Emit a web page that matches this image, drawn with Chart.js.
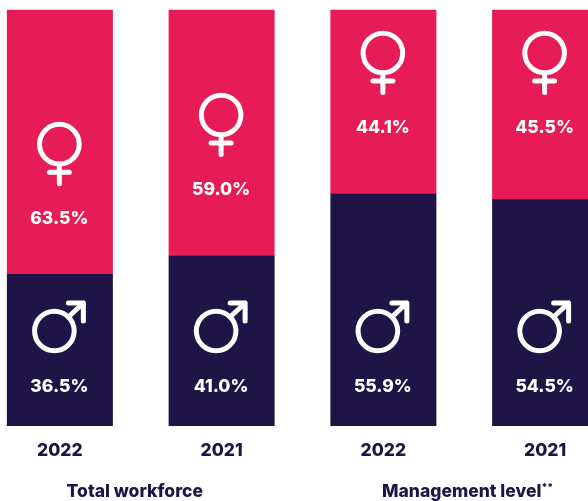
<!DOCTYPE html>
<html><head><meta charset="utf-8">
<script src="https://cdn.jsdelivr.net/npm/chart.js@4"></script>
<style>
html,body{margin:0;padding:0;background:#fff;overflow:hidden}
#wrap{position:relative;width:588px;height:501px;overflow:hidden}
#c{position:absolute;left:-21px;top:0}
</style></head><body>
<div id="wrap"><canvas id="c" width="647" height="501"></canvas></div>
<script>
const years = ['2022','2021','2022','2021'];
const femaleShare = [63.5,59.0,44.1,45.5];
const maleShare = [36.5,41.0,55.9,54.5];
const groups = ['Total workforce','Management level'];
const PINK = '#E71B55', NAVY = '#1F1446', FONT = 'Inter, sans-serif';
// label anchors expressed on the y scale (percent units)
const femaleLabelAt = [49.9,56.9,71.8,71.8];
const maleLabelAt = [9.6,9.6,9.6,9.6];

function venus(ctx,x,y){
  ctx.beginPath();ctx.arc(x,y,19.8,0,Math.PI*2);ctx.stroke();
  ctx.beginPath();ctx.moveTo(x,y+20);ctx.lineTo(x,y+39.5);
  ctx.moveTo(x-10,y+28);ctx.lineTo(x+10,y+28);ctx.stroke();
}
function mars(ctx,x,y){
  ctx.beginPath();ctx.arc(x,y,19.8,0,Math.PI*2);ctx.stroke();
  ctx.beginPath();ctx.moveTo(x+14,y-14);ctx.lineTo(x+29,y-28);
  ctx.moveTo(x+14,y-28);ctx.lineTo(x+29,y-28);ctx.lineTo(x+29,y-10);ctx.stroke();
}
const annot = {
  id:'annot',
  afterDatasetsDraw(chart){
    const {ctx,scales:{x:xs,y:ys}} = chart;
    ctx.save();
    ctx.fillStyle='#fff';ctx.strokeStyle='#fff';ctx.lineWidth=5;ctx.lineCap='round';ctx.lineJoin='round';
    ctx.textAlign='center';ctx.textBaseline='middle';ctx.font='800 17.5px '+FONT;
    years.forEach((_,i)=>{
      const cx=xs.getPixelForValue(i)-0.5;
      const fy=ys.getPixelForValue(femaleLabelAt[i]), my=ys.getPixelForValue(maleLabelAt[i]);
      ctx.fillText(femaleShare[i].toFixed(1)+'%',cx,fy+1);
      ctx.fillText(maleShare[i].toFixed(1)+'%',cx,my+1);
      venus(ctx,cx,fy-74);
      mars(ctx,cx-5,my-55);
    });
    ctx.fillStyle=NAVY;ctx.font='800 17.5px '+FONT;
    const y=492;
    const c1=(xs.getPixelForValue(0)+xs.getPixelForValue(1))/2;
    const c2=(xs.getPixelForValue(2)+xs.getPixelForValue(3))/2;
    ctx.fillText(groups[0],c1-6,y);
    const w=ctx.measureText(groups[1]).width;
    const left=c2+2-(w+9)/2;
    ctx.textAlign='left';ctx.fillText(groups[1],left,y);
    ctx.font='800 10px '+FONT;ctx.fillText('**',left+w,y-4);
    ctx.restore();
  }
};
new Chart(document.getElementById('c'),{
  type:'bar',
  data:{labels:years,datasets:[
    {label:'Male',data:maleShare,backgroundColor:NAVY,borderWidth:0},
    {label:'Female',data:femaleShare,backgroundColor:PINK,borderWidth:0}
  ]},
  options:{
    responsive:false,animation:false,
    layout:{padding:{top:9.5,left:0,right:0,bottom:0}},
    datasets:{bar:{barPercentage:106/161.75,categoryPercentage:1}},
    plugins:{legend:{display:false},tooltip:{enabled:false},title:{display:false}},
    scales:{
      x:{stacked:true,grid:{display:false},border:{display:false},
         afterFit(s){s.height=75},
         ticks:{color:NAVY,font:{family:FONT,size:17.5,weight:'800'},padding:6,maxRotation:0}},
      y:{stacked:true,display:false,min:0,max:100}
    }
  },
  plugins:[annot]
});
</script>
</body></html>
